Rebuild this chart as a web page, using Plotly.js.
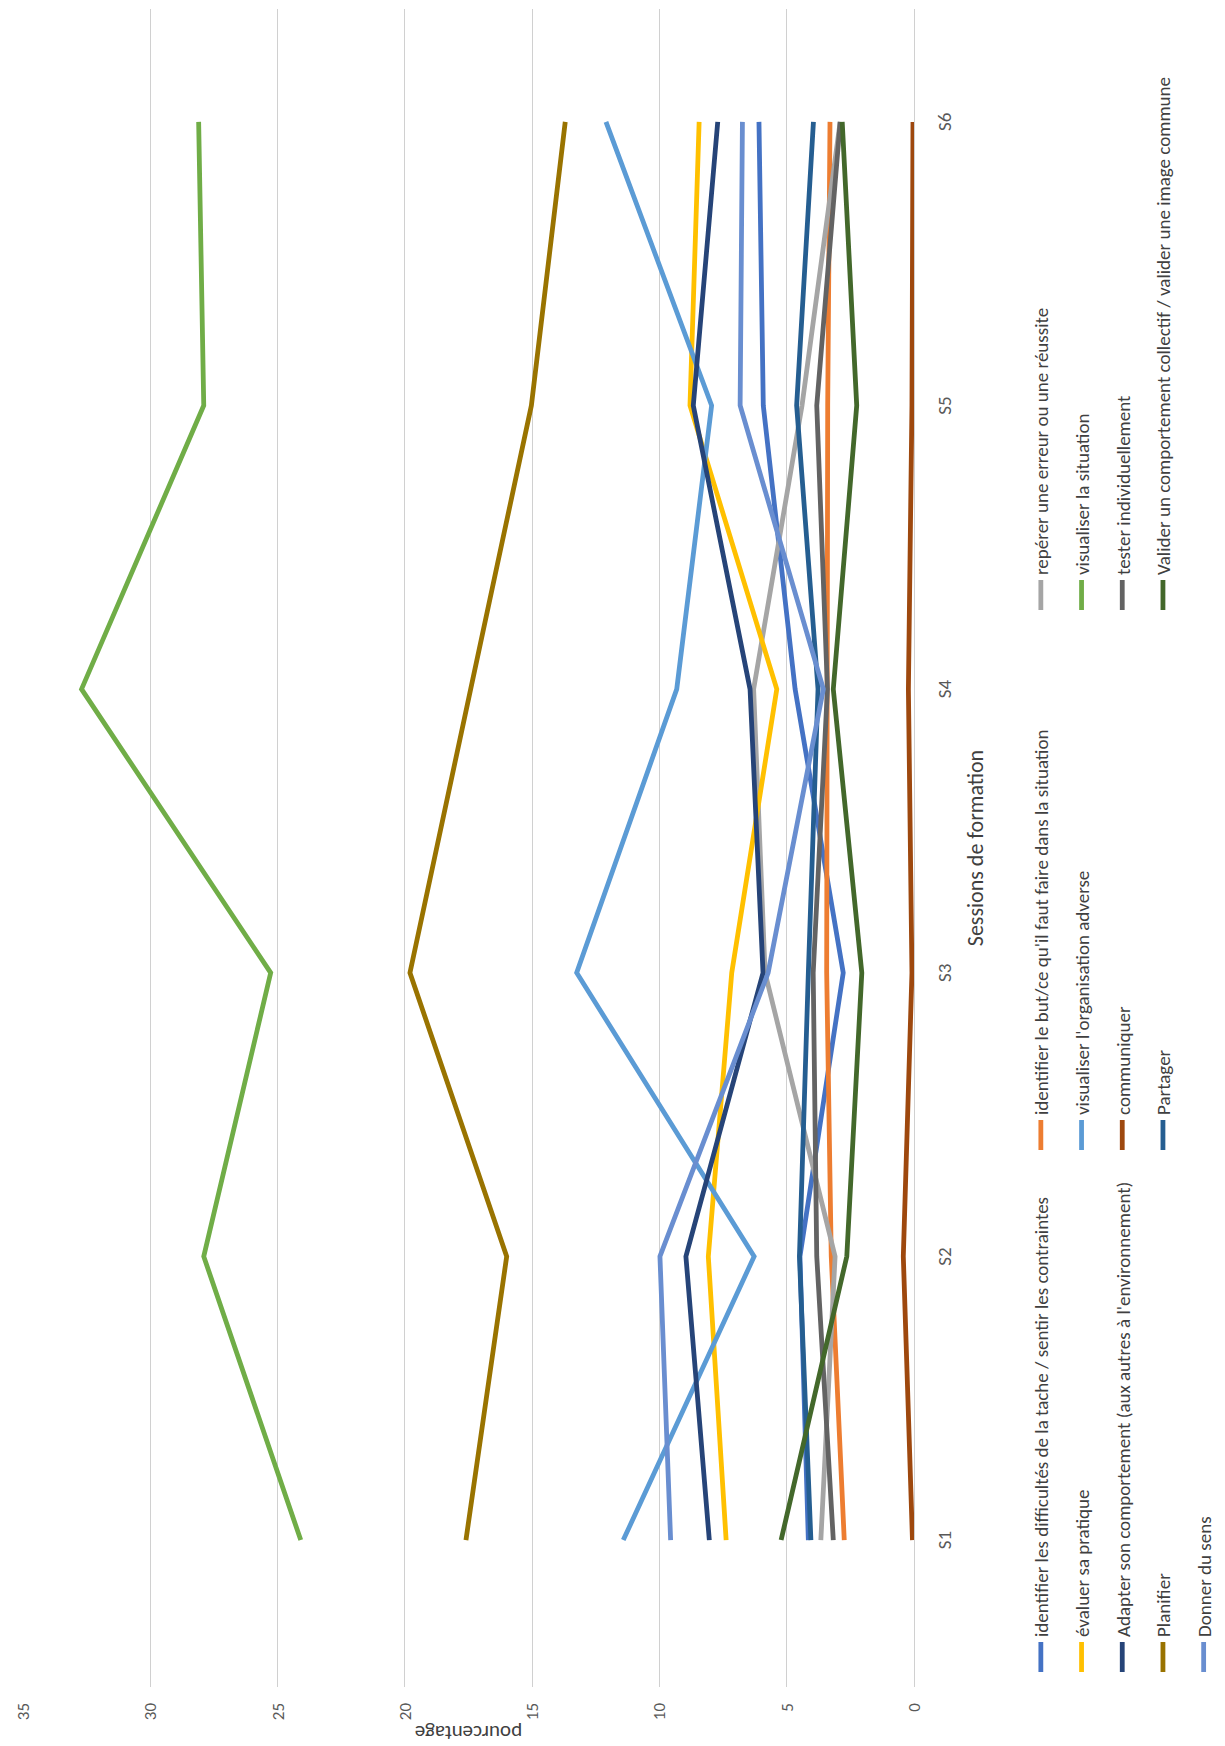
<!DOCTYPE html>
<html>
<head>
<meta charset="utf-8">
<script src="https://cdn.plot.ly/plotly-3.0.1.min.js"></script>
<style>
  html, body { margin: 0; padding: 0; background: #ffffff; overflow: hidden; width: 1225px; height: 1746px; }
  #chart {
    position: absolute; left: 0; top: 0;
    width: 1746px; height: 1225px;
    transform-origin: 0 0;
    transform: translateY(1746px) rotate(-90deg);
  }
</style>
</head>
<body>
<div id="chart"></div>
<script>
// ---- data ----
const categories = ['S1', 'S2', 'S3', 'S4', 'S5', 'S6'];

const seriesNames = [
  "identifier les difficultés de la tache / sentir les contraintes",
  "identifier le but/ce qu'il faut faire dans la situation",
  "repérer une erreur ou une réussite",
  "évaluer sa pratique",
  "visualiser l'organisation adverse",
  "visualiser la situation",
  "Adapter son comportement (aux autres à l'environnement)",
  "communiquer",
  "tester individuellement",
  "Planifier",
  "Partager",
  "Valider un comportement collectif / valider une image commune",
  "Donner du sens"
];

const difficultes   = [4.15, 4.48, 2.78, 4.67, 5.92, 6.09];
const but           = [2.74, 3.25, 3.43, 3.43, 3.39, 3.30];
const reperer       = [3.66, 3.10, 5.85, 6.30, 4.40, 2.90];
const evaluer       = [7.38, 8.08, 7.16, 5.39, 8.80, 8.44];
const orgAdverse    = [11.42, 6.28, 13.25, 9.32, 7.95, 12.10];
const situation     = [24.09, 27.90, 25.27, 32.70, 27.90, 28.10];
const adapter       = [8.04, 8.96, 5.93, 6.44, 8.67, 7.71];
const communiquer   = [0.06, 0.42, 0.08, 0.22, 0.08, 0.04];
const tester        = [3.17, 3.82, 3.96, 3.40, 3.82, 2.90];
const planifier     = [17.60, 16.00, 19.80, 17.40, 15.03, 13.70];
const partager      = [4.05, 4.50, 4.15, 3.77, 4.61, 3.95];
const valider       = [5.22, 2.64, 2.05, 3.17, 2.25, 2.82];
const sens          = [9.56, 9.98, 5.73, 3.56, 6.83, 6.74];

const valueTicks = [0, 5, 10, 15, 20, 25, 30, 35];

// ---- styles ----
const seriesValues = [difficultes, but, reperer, evaluer, orgAdverse, situation,
  adapter, communiquer, tester, planifier, partager, valider, sens];
const colors = ['#4472C4', '#ED7D31', '#A5A5A5', '#FFC000', '#5B9BD5', '#70AD47',
  '#264478', '#9E480E', '#636363', '#997300', '#255E91', '#43682B', '#698ED0'];
const legendIds = ['legend', 'legend2', 'legend3'];

const FONT = "Carlito, 'Liberation Sans Narrow', 'Arial Narrow', Roboto, sans-serif";

const traces = seriesNames.map((name, i) => ({
  type: 'scatter',
  mode: 'lines',
  name: name,
  x: categories,
  y: seriesValues[i],
  line: { color: colors[i], width: 4.8 },
  legend: legendIds[i % 3],
  legendgroup: 'g' + i,
  hoverinfo: 'name+y'
}));

// plot area in the unrotated frame: x 59..1737, y 23..914
const PL = 59, PR = 1737, PT = 23, PB = 914;
const pw = PR - PL, ph = PB - PT;
function px2x(px) { return (px - PL) / pw; }
function py2y(py) { return (PB - py) / ph; }

const LEG_SIZE = 19;
const legendCommon = {
  orientation: 'v',
  xanchor: 'left',
  yanchor: 'top',
  bgcolor: 'rgba(0,0,0,0)',
  borderwidth: 0,
  font: { family: FONT, size: LEG_SIZE, color: '#404040' },
  tracegroupgap: 13,
  itemclick: false,
  itemdoubleclick: false
};

const legendTop = py2y(1022);

const layout = {
  width: 1746,
  height: 1225,
  paper_bgcolor: '#ffffff',
  plot_bgcolor: '#ffffff',
  margin: { l: PL, r: 1746 - PR, t: PT, b: 1225 - PB, autoexpand: false },
  font: { family: FONT, color: '#595959' },
  showlegend: true,
  xaxis: {
    type: 'category',
    categoryorder: 'array',
    categoryarray: categories,
    range: [-0.518, 5.398],
    showgrid: false,
    zeroline: false,
    showline: true,
    linecolor: '#d0d0d0',
    linewidth: 1,
    ticks: '',
    ticklabelstandoff: 13,
    tickfont: { family: FONT, size: 19, color: '#595959' },
    title: { text: 'Sessions de formation', font: { family: FONT, size: 22, color: '#404040' }, standoff: 12 }
  },
  yaxis: {
    range: [0, 35],
    tickvals: valueTicks,
    ticktext: valueTicks.map(String),
    showgrid: true,
    gridcolor: '#d0d0d0',
    gridwidth: 1,
    zeroline: false,
    showline: false,
    ticks: '',
    ticklabelstandoff: 15,
    tickfont: { family: FONT, size: 17, color: '#595959' },
    title: { text: 'pourcentage', font: { family: FONT, size: 21, color: '#404040' }, standoff: 2 }
  },
  legend: Object.assign({}, legendCommon, { x: px2x(69), y: legendTop }),
  legend2: Object.assign({}, legendCommon, { x: px2x(591), y: legendTop }),
  legend3: Object.assign({}, legendCommon, { x: px2x(1131), y: legendTop })
};

Plotly.newPlot('chart', traces, layout, { displayModeBar: false, staticPlot: true });
</script>
</body>
</html>
